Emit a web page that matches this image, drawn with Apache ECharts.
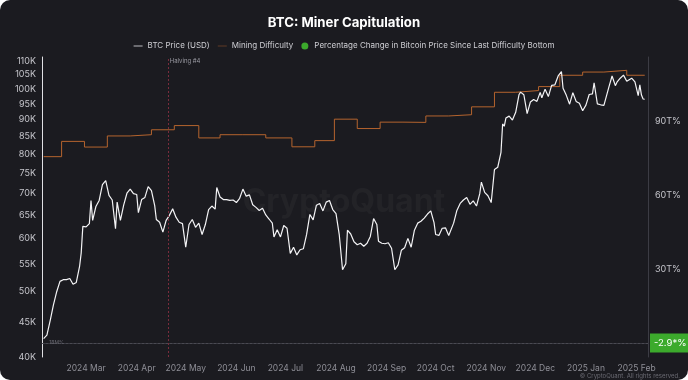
<!DOCTYPE html>
<html><head><meta charset="utf-8">
<script src="https://cdn.jsdelivr.net/npm/echarts@6/dist/echarts.min.js"></script>
<style>
html,body{margin:0;padding:0;background:#ffffff;}
#c{width:688px;height:380px;background:#1b1b20;border-radius:10px;overflow:hidden;}
</style>
</head><body><div id="c"></div>
<script>
// ---- data ----
const titleText = 'BTC: Miner Capitulation';
const seriesNames = ['BTC Price (USD)', 'Mining Difficulty', 'Percentage Change in Bitcoin Price Since Last Difficulty Bottom'];
const priceTicks = [40000,45000,50000,55000,60000,65000,70000,75000,80000,85000,90000,95000,100000,105000,110000];
const rightTicksT = [30,60,90];
const btcPrice = [
['2024-02-04',42600],['2024-02-06',43100],['2024-02-08',45300],['2024-02-10',47800],['2024-02-12',50000],
['2024-02-14',51800],['2024-02-16',52100],['2024-02-18',52100],['2024-02-20',52300],['2024-02-22',51300],
['2024-02-24',51600],['2024-02-26',54500],['2024-02-27',57100],['2024-02-28',62500],['2024-03-01',62400],
['2024-03-03',63100],['2024-03-04',68300],['2024-03-05',63800],['2024-03-07',66900],['2024-03-09',68300],
['2024-03-11',72100],['2024-03-13',73100],['2024-03-15',69500],['2024-03-17',68400],['2024-03-19',62000],
['2024-03-20',67900],['2024-03-22',63800],['2024-03-24',67200],['2024-03-26',70000],['2024-03-28',71000],
['2024-03-30',69900],['2024-04-01',69700],['2024-04-02',65500],['2024-04-04',68500],['2024-04-06',69000],
['2024-04-08',71600],['2024-04-10',70600],['2024-04-12',67100],['2024-04-13',64000],['2024-04-15',63400],
['2024-04-17',61300],['2024-04-19',63800],['2024-04-21',64900],['2024-04-23',66400],['2024-04-25',64500],
['2024-04-27',63400],['2024-04-29',63100],['2024-04-30',60600],['2024-05-01',58200],['2024-05-03',62900],
['2024-05-05',64000],['2024-05-07',62300],['2024-05-09',63200],['2024-05-11',60800],['2024-05-13',62900],
['2024-05-15',66200],['2024-05-17',67000],['2024-05-19',66300],['2024-05-20',71400],['2024-05-22',69100],
['2024-05-24',68500],['2024-05-26',68500],['2024-05-28',68300],['2024-05-30',68400],['2024-06-01',67800],
['2024-06-03',68800],['2024-06-05',71000],['2024-06-07',69300],['2024-06-09',69600],['2024-06-11',67300],
['2024-06-13',66700],['2024-06-15',66000],['2024-06-17',66500],['2024-06-19',65000],['2024-06-21',64100],
['2024-06-23',63200],['2024-06-24',60300],['2024-06-26',61800],['2024-06-28',60300],['2024-06-30',62700],
['2024-07-02',62100],['2024-07-04',57000],['2024-07-06',58200],['2024-07-08',56700],['2024-07-10',57700],
['2024-07-12',57900],['2024-07-14',60800],['2024-07-16',65100],['2024-07-18',63900],['2024-07-20',67200],
['2024-07-22',67600],['2024-07-24',65900],['2024-07-26',67900],['2024-07-28',68300],['2024-07-30',66200],
['2024-08-01',65300],['2024-08-03',60700],['2024-08-05',53900],['2024-08-07',55000],['2024-08-08',61700],
['2024-08-10',60900],['2024-08-12',59300],['2024-08-14',58700],['2024-08-16',59000],['2024-08-18',58400],
['2024-08-20',59000],['2024-08-22',60400],['2024-08-24',64200],['2024-08-26',62900],['2024-08-27',59400],
['2024-08-29',59000],['2024-08-31',58900],['2024-09-02',59100],['2024-09-04',58000],['2024-09-06',53900],
['2024-09-08',54800],['2024-09-10',57600],['2024-09-12',58100],['2024-09-14',60000],['2024-09-16',58200],
['2024-09-18',61700],['2024-09-20',63200],['2024-09-22',63600],['2024-09-24',64300],['2024-09-26',65200],
['2024-09-28',65900],['2024-09-30',63300],['2024-10-01',60800],['2024-10-03',60600],['2024-10-05',62100],
['2024-10-07',62200],['2024-10-09',60600],['2024-10-10',60300],['2024-10-12',63200],['2024-10-14',66000],
['2024-10-16',67600],['2024-10-18',68400],['2024-10-20',69000],['2024-10-22',67400],['2024-10-24',68200],
['2024-10-26',67000],['2024-10-28',69900],['2024-10-29',72700],['2024-10-31',70200],['2024-11-02',69400],
['2024-11-04',67800],['2024-11-06',75900],['2024-11-08',76500],['2024-11-10',80500],['2024-11-11',88700],
['2024-11-12',88000],['2024-11-13',90500],['2024-11-15',91100],['2024-11-17',89900],['2024-11-19',92300],
['2024-11-21',98000],['2024-11-22',98900],['2024-11-24',98000],['2024-11-26',91900],['2024-11-28',95600],
['2024-11-30',96400],['2024-12-02',95800],['2024-12-04',98800],['2024-12-05',97000],['2024-12-07',99900],
['2024-12-09',97400],['2024-12-11',101200],['2024-12-13',101400],['2024-12-15',104500],['2024-12-17',106100],
['2024-12-18',100200],['2024-12-20',97800],['2024-12-22',94900],['2024-12-24',98700],['2024-12-26',95800],
['2024-12-28',95200],['2024-12-30',92800],['2025-01-01',94600],['2025-01-03',98100],['2025-01-05',98300],
['2025-01-06',102100],['2025-01-08',95000],['2025-01-10',94700],['2025-01-12',94500],['2025-01-13',94500],
['2025-01-15',100500],['2025-01-17',104500],['2025-01-19',101100],['2025-01-20',102300],['2025-01-22',103700],
['2025-01-24',104800],['2025-01-26',102600],['2025-01-27',102100],['2025-01-29',103700],['2025-01-31',102400],
['2025-02-02',97700],['2025-02-03',101400],['2025-02-04',97900],['2025-02-05',96600],['2025-02-06',96500]
];
// mining difficulty, in T (10^12)
const difficultyT = [
['2024-02-04',75.5],['2024-02-15',81.7],['2024-02-29',79.4],['2024-03-14',83.9],['2024-03-28',84.4],
['2024-04-10',86.4],['2024-04-24',88.1],['2024-05-09',83.1],['2024-05-22',84.4],['2024-06-05',84.4],
['2024-06-19',83.1],['2024-07-05',79.5],['2024-07-19',82.0],['2024-07-31',90.7],['2024-08-14',86.9],
['2024-08-28',89.5],['2024-09-11',89.4],['2024-09-25',92.0],['2024-10-09',92.5],['2024-10-23',95.7],
['2024-11-06',101.6],['2024-11-19',102.3],['2024-12-03',103.9],['2024-12-16',108.5],['2024-12-30',109.8],
['2025-01-12',110.5],['2025-01-26',108.5],['2025-02-06',108.5]
];
const pctChange = [['2025-02-06',-2.9]];
const halvingDate = '2024-04-20';
const monthNames = ['Jan','Feb','Mar','Apr','May','Jun','Jul','Aug','Sep','Oct','Nov','Dec'];
const T = 1e12;

const FONT = 'Inter, "Noto Sans", sans-serif';
const chart = echarts.init(document.getElementById('c'), null, {renderer:'canvas'});
chart.setOption({
  backgroundColor: 'transparent',
  animation: false,
  textStyle: {fontFamily: FONT},
  title: {text: titleText, left: 'center', top: 12,
    textStyle: {color:'#ffffff', fontSize: 13.2, fontWeight: 'bold', fontFamily: FONT}},
  legend: {top: 37, left: 'center', itemGap: 8, itemWidth: 9, itemHeight: 7,
    textStyle: {color:'#cfcfd4', fontSize: 8, fontFamily: FONT},
    data: [
      {name: seriesNames[0], icon: 'path://M0,4 L12,4 L12,5 L0,5 Z'},
      {name: seriesNames[1], icon: 'path://M0,4 L12,4 L12,4.6 L0,4.6 Z'},
      {name: seriesNames[2], icon: 'circle', itemStyle:{color:'#3caa2c'}}
    ]},
  grid: {left: 42, right: 40, top: 57, bottom: 23},
  xAxis: {type: 'time', min: '2024-02-03', max: '2025-02-08',
    minInterval: 28 * 86400000, maxInterval: 31 * 86400000, splitNumber: 12,
    axisLine: {show: true, lineStyle: {color:'#3a3a42', width: 1}},
    axisTick: {show: false}, splitLine: {show: false},
    axisLabel: {color:'#8e8e96', fontSize: 8.5, margin: 7, hideOverlap: false, showMinLabel: false, showMaxLabel: false,
      formatter: v => { const d = new Date(v); return d.getFullYear() + ' ' + monthNames[d.getMonth()]; }}},
  yAxis: [
    {type: 'log', min: 40000, max: 111500, position: 'left',
      axisLine: {show: true, lineStyle: {color:'#e0e0e4', width: 1}},
      axisTick: {show: false}, splitLine: {show: false},
      axisLabel: {customValues: priceTicks, color:'#c4c4ca', fontSize: 9, margin: 6,
        formatter: v => Math.round(v/1000) + 'K'}},
    {type: 'value', min: -5.7 * T, max: 115.9 * T, position: 'right',
      axisLine: {show: true, lineStyle: {color:'#3c3c44', width: 1}},
      axisTick: {show: false}, splitLine: {show: false},
      axisLabel: {customValues: rightTicksT.map(v => v * T), color:'#c4c4ca', fontSize: 9, margin: 7,
        formatter: v => Math.round(v / T) + 'T%'}}
  ],
  graphic: [
    {type:'text', left: 'center', top: 186, z: 0, silent: true,
      style: {text: 'CryptoQuant', fill: 'rgba(255,255,255,0.035)', font: 'bold 32px ' + FONT}},
    {type:'text', right: 8, bottom: 1, silent: true,
      style: {text: '© CryptoQuant. All rights reserved.', fill: '#6a6a72', font: '6px ' + FONT}}
  ],
  series: [
    {name: seriesNames[1], type: 'line', yAxisIndex: 1, step: 'end', data: difficultyT.map(d => [d[0], d[1] * T]),
      showSymbol: false, symbol: 'none', lineStyle: {color:'#b5642e', width: 1}, itemStyle:{color:'#b5642e'}, z: 2},
    {name: seriesNames[0], type: 'line', yAxisIndex: 0, data: btcPrice,
      showSymbol: false, symbol: 'none', lineStyle: {color:'#f4f4f6', width: 1.2}, itemStyle:{color:'#f4f4f6'}, z: 3,
      markLine: {silent: true, symbol: 'none',
        lineStyle: {color:'#7a2c3c', type: [2,2], width: 1},
        label: {show: false},
        data: [{xAxis: halvingDate}]},
      markPoint: {symbol: 'circle', symbolSize: 0,
        label: {show: true, position: 'right', distance: 2, offset: [0, 4], formatter: 'Halving #4', color:'#9a9aa2', fontSize: 6},
        data: [{coord: [halvingDate, 111500]}]}},
    {name: seriesNames[2], type: 'line', yAxisIndex: 1, data: pctChange,
      showSymbol: false, symbol: 'none', lineStyle: {color:'#3caa2c', width: 1}, itemStyle:{color:'#3caa2c'}, z: 4,
      markLine: {silent: true, symbol: 'none',
        lineStyle: {color:'#4a4a52', type: [2,2], width: 1},
        data: [{yAxis: pctChange[pctChange.length - 1][1]}],
        label: {show: true, position: 'end', distance: 2, formatter: '-2.9*%', color:'#ffffff', fontSize: 9.5,
          backgroundColor: '#3caa2c', padding: [5, 4, 4, 4]}},
      markPoint: {symbol: 'circle', symbolSize: 0,
        label: {show: true, position: 'right', distance: 4, formatter: '18M%', color:'#6a6a72', fontSize: 5},
        data: [{coord: ['2024-02-05', pctChange[0][1]]}]}}
  ]
});
</script></body></html>
